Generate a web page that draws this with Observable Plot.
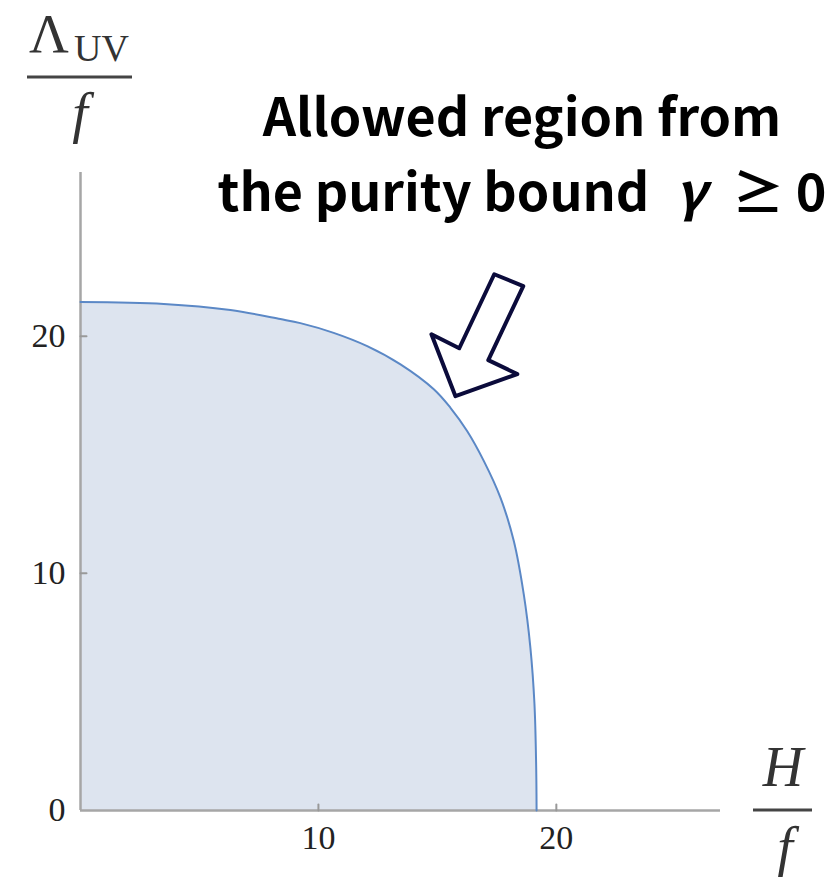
<!DOCTYPE html>
<html><head><meta charset="utf-8">
<script src="https://cdn.jsdelivr.net/npm/d3@7"></script>
<script src="https://cdn.jsdelivr.net/npm/@observablehq/plot@0.6"></script>
<style>html,body{margin:0;padding:0;background:#fff;} svg{display:block}</style>
</head><body><div id="chart"></div>
<script>
// Boundary of the allowed region (H/f, Λ_UV/f)
const hOverF      = [0, 3.5, 6.3, 8.4, 9.24, 10.64, 12.05, 13.45, 14.85, 15.55, 16.25, 16.95, 17.65, 18.21, 18.63, 18.91, 19.08, 19.15, 19.17];
const lambdaOverF = [21.44, 21.36, 21.1, 20.72, 20.55, 20.14, 19.58, 18.81, 17.76, 16.98, 16.0, 14.74, 13.19, 11.37, 9.12, 6.86, 4.5, 2.0, 0];
const xTickLabels = [10, 20];
const yTickLabels = [0, 10, 20];
const xTickMarks = [10, 20];
const yTickMarks = [10, 20];
const axisMax = 26.9;
// Annotation arrow outline (data units)
const arrowX = [15.76, 14.75, 15.92, 17.39, 18.61, 17.14, 18.36, 15.76];
const arrowY = [17.47, 20.08, 19.49, 22.61, 22.11, 18.99, 18.40, 17.47];
const titleLine1 = "Allowed region from";
const titleLine2 = ["the purity bound\u2002", "\u03b3", "\u2002\u2265 0"];

const boundary = hOverF.map((h, i) => ({h, lam: lambdaOverF[i]}));
const arrow = arrowX.map((x, i) => ({x, y: arrowY[i]}));

const serif = "'Liberation Serif', 'DejaVu Serif', serif";
const tickShape = {draw(ctx, l) { ctx.moveTo(0, 0); ctx.lineTo(0, -l); }};

const chart = Plot.plot({
  width: 836, height: 877,
  marginLeft: 80, marginRight: 116, marginTop: 172, marginBottom: 67,
  x: {domain: [0, axisMax], axis: null},
  y: {domain: [0, axisMax], axis: null},
  style: {background: "white", fontFamily: serif},
  marks: [
    Plot.areaY(boundary, {x: "h", y: "lam", fill: "#dde4ef", curve: "catmull-rom"}),
    Plot.ruleX([0], {stroke: "#a6a6a6", strokeWidth: 2.5}),
    Plot.ruleY([0], {stroke: "#a6a6a6", strokeWidth: 2.5}),
    Plot.vector(xTickMarks, {x: d => d, y: 0, length: 6, rotate: 0, anchor: "start", shape: tickShape, stroke: "#999", strokeWidth: 2}),
    Plot.vector(yTickMarks, {x: 0, y: d => d, length: 6, rotate: 90, anchor: "start", shape: tickShape, stroke: "#999", strokeWidth: 2}),
    Plot.line(boundary, {x: "h", y: "lam", stroke: "#5b88c6", strokeWidth: 2, curve: "catmull-rom"}),
    Plot.text(xTickLabels, {x: d => d, y: 0, text: d => String(d), dy: 28, fontSize: 34, fill: "#222"}),
    Plot.text(yTickLabels, {x: 0, y: d => d, text: d => String(d), dx: -15, textAnchor: "end", fontSize: 34, fill: "#222"}),
    Plot.line(arrow, {x: "x", y: "y", stroke: "#0b0b3b", strokeWidth: 4, fill: "white", strokeLinejoin: "round"})
  ]
});

const svg = d3.select(chart);
const sans = "'Noto Sans CJK JP', 'Noto Sans', sans-serif";
// Title annotation
svg.append("text").attr("x", 522).attr("y", 136).attr("text-anchor", "middle")
  .style("font-family", sans).style("font-weight", "bold").style("font-size", "52px").attr("fill", "#000")
  .text(titleLine1);
const t2 = svg.append("text").attr("x", 522).attr("y", 211).attr("text-anchor", "middle")
  .style("font-family", sans).style("font-weight", "bold").style("font-size", "52px").attr("fill", "#000");
t2.append("tspan").text(titleLine2[0]);
t2.append("tspan").style("font-style", "italic").text(titleLine2[1]);
t2.append("tspan").text(titleLine2[2]);
// y label: Λ_UV / f
const g1 = svg.append("g").attr("fill", "#333").attr("text-anchor", "start").style("font-family", serif);
g1.append("text").attr("x", 29).attr("y", 52).style("font-size", "55px").text("\u039b");
g1.append("text").attr("x", 74).attr("y", 61).style("font-size", "38px").text("UV");
svg.append("line").attr("x1", 27).attr("x2", 132).attr("y1", 77).attr("y2", 77).attr("stroke", "#444").attr("stroke-width", 3);
g1.append("text").attr("x", 80).attr("y", 132).attr("text-anchor", "middle").style("font-size", "56px").style("font-style", "italic").text("f");
// x label: H / f
const g2 = svg.append("g").attr("fill", "#333").style("font-family", serif);
g2.append("text").attr("x", 783).attr("y", 786).attr("text-anchor", "middle").style("font-size", "56px").style("font-style", "italic").text("H");
svg.append("line").attr("x1", 753).attr("x2", 812).attr("y1", 810).attr("y2", 810).attr("stroke", "#444").attr("stroke-width", 3);
g2.append("text").attr("x", 785).attr("y", 866).attr("text-anchor", "middle").style("font-size", "56px").style("font-style", "italic").text("f");

document.getElementById("chart").appendChild(chart);
</script>
</body></html>
